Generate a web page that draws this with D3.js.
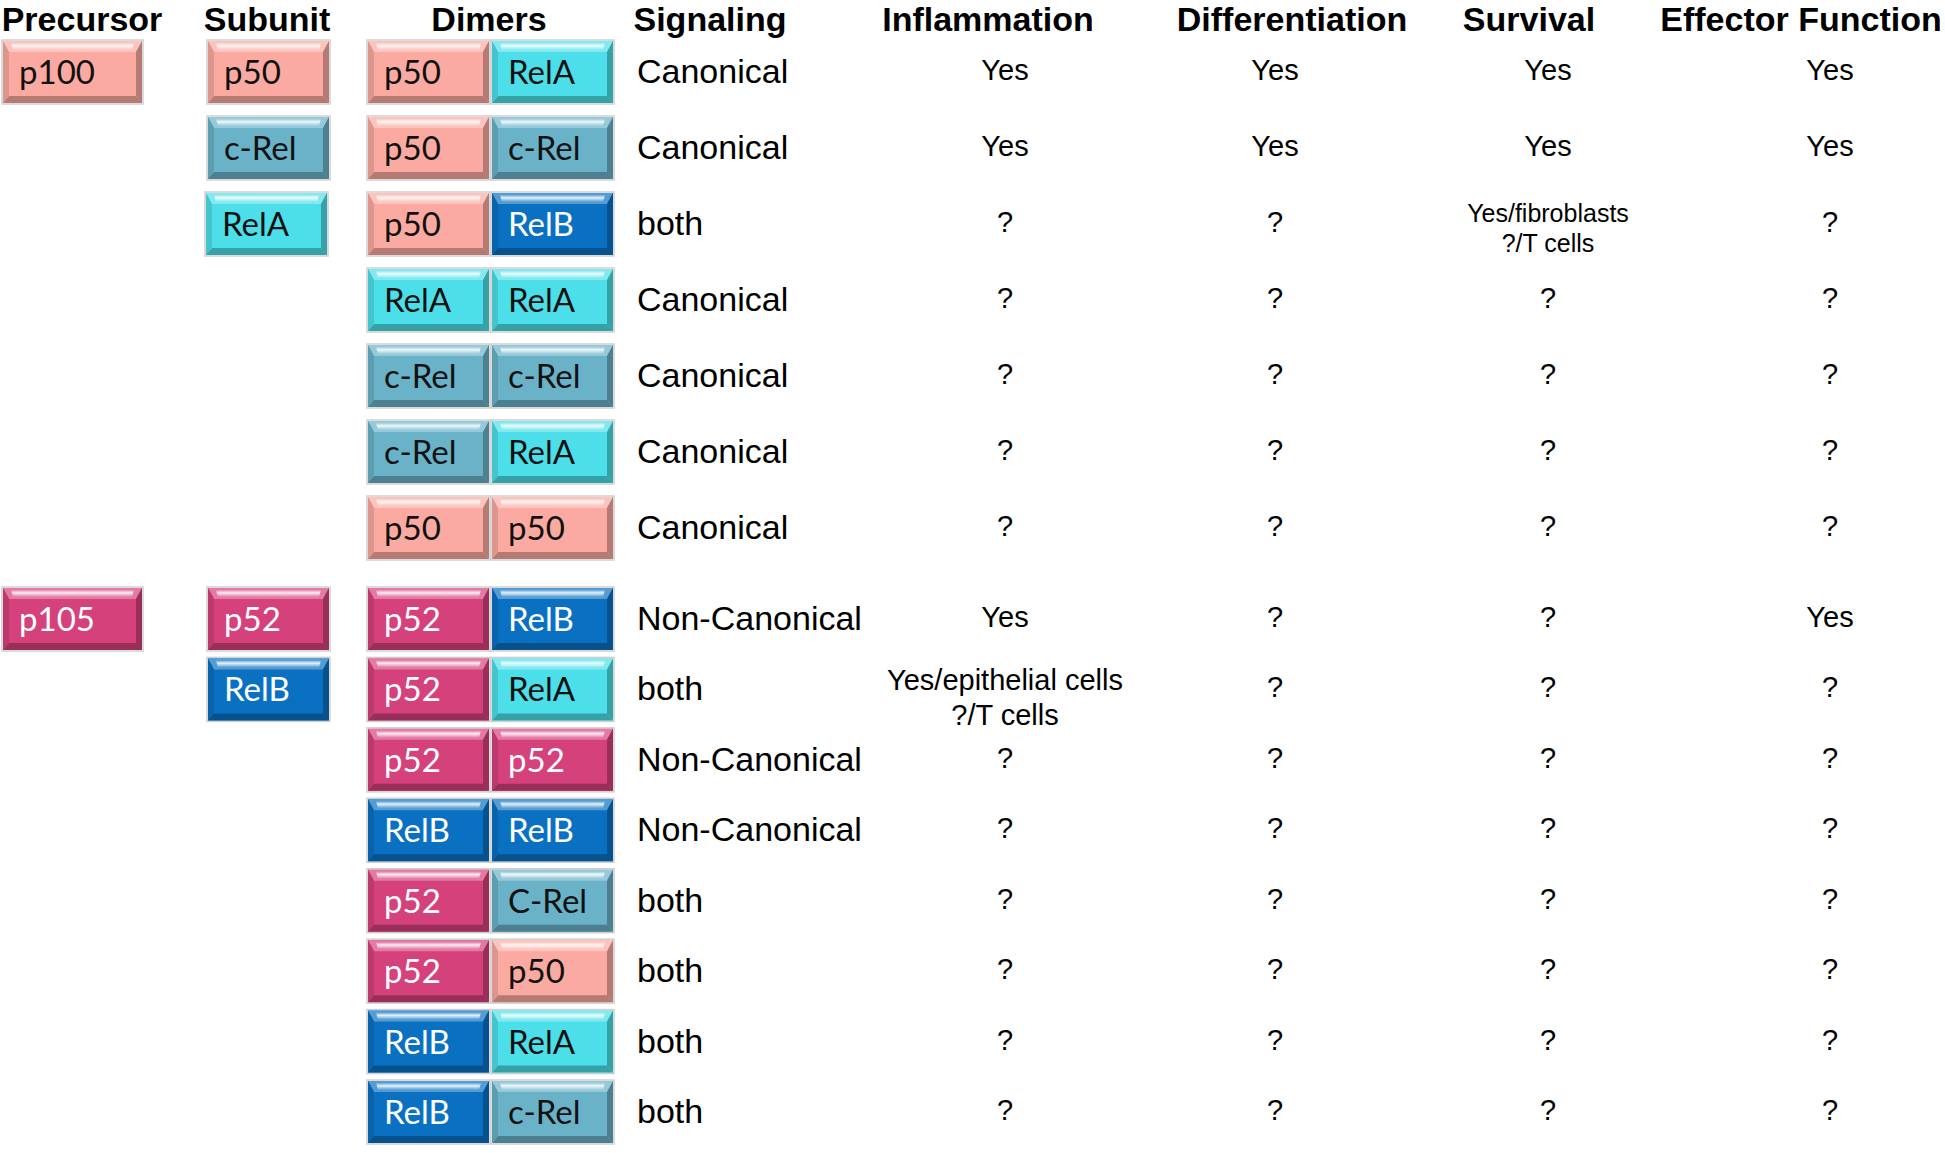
<!DOCTYPE html>
<html>
    <head>
        <meta charset="utf-8">
        <style>
            body { margin: 0; background: #fff; }
            .entete { font-family: "Liberation Sans", Arial, sans-serif; font-weight: bold; font-size: 34px; fill: #000; text-anchor: middle; }
            .signal { font-family: "Liberation Sans", Arial, sans-serif; font-size: 34px; fill: #000; }
            .valeur { font-family: "Liberation Sans", Arial, sans-serif; font-size: 29px; fill: #000; text-anchor: middle; }
            .etiquette { font-family: Lato, "Open Sans", sans-serif; font-size: 33px; }
        </style>
    </head>
    <body>
        <div id="plateau"></div>
        <script src="https://cdn.jsdelivr.net/npm/d3@7/dist/d3.min.js"></script>
        <script>

//////////////////// donnees ////////////////////
const HEADERS = ['Precursor', 'Subunit', 'Dimers', 'Signaling', 'Inflammation', 'Differentiation', 'Survival', 'Effector Function'];
const PRECURSORS = ['p100', 'p105'];
const SUBUNITS = [['p50', 'c-Rel', 'RelA'], ['p52', 'RelB']];
const DIMERS_1 = [['p50', 'RelA'], ['p50', 'c-Rel'], ['p50', 'RelB'], ['RelA', 'RelA'], ['c-Rel', 'c-Rel'], ['c-Rel', 'RelA'], ['p50', 'p50']];
const DIMERS_2 = [['p52', 'RelB'], ['p52', 'RelA'], ['p52', 'p52'], ['RelB', 'RelB'], ['p52', 'C-Rel'], ['p52', 'p50'], ['RelB', 'RelA'], ['RelB', 'c-Rel']];
const SIGNALING = ['Canonical', 'Canonical', 'both', 'Canonical', 'Canonical', 'Canonical', 'Canonical',
    'Non-Canonical', 'both', 'Non-Canonical', 'Non-Canonical', 'both', 'both', 'both', 'both'];
const INFLAMMATION = ['Yes', 'Yes', '?', '?', '?', '?', '?', 'Yes', 'Yes/epithelial cells\n?/T cells', '?', '?', '?', '?', '?', '?'];
const DIFFERENTIATION = ['Yes', 'Yes', '?', '?', '?', '?', '?', '?', '?', '?', '?', '?', '?', '?', '?'];
const SURVIVAL = ['Yes', 'Yes', 'Yes/fibroblasts\n?/T cells', '?', '?', '?', '?', '?', '?', '?', '?', '?', '?', '?', '?'];
const EFFECTOR = ['Yes', 'Yes', '?', '?', '?', '?', '?', 'Yes', '?', '?', '?', '?', '?', '?', '?'];

//////////////////// mise en page ////////////////////
const W = 1945;
const H = 1153;
const BOX_H = 62;

const couleur = d3.scaleOrdinal()
    .domain(['p100', 'p50', 'p105', 'p52', 'c-Rel', 'C-Rel', 'RelA', 'RelB'])
    .range(['#faaaa0', '#faaaa0', '#d5417b', '#d5417b', '#69b2c8', '#69b2c8', '#4ddfe9', '#0a71c2']);
const texte_blanc = ['p105', 'p52', 'RelB'];

// lignes : deux groupes (p100 puis p105)
const y1 = d3.scaleLinear().domain([0, DIMERS_1.length - 1]).range([41, 497]);
const y2 = d3.scaleLinear().domain([0, DIMERS_2.length - 1]).range([588, 1081]);
const rowTop = (g, i) => g == 0 ? y1(i) : y2(i);

const DIMERS = DIMERS_1.map(d => ({ g: 0, d })).concat(DIMERS_2.map(d => ({ g: 1, d })));
DIMERS.forEach((r, idx) => r.i = r.g == 0 ? idx : idx - DIMERS_1.length);

const xHeader = d3.scaleOrdinal().domain(HEADERS).range([82, 267, 489, 710, 988, 1292, 1529, 1801]);
const xValeur = d3.scaleOrdinal().domain(['Inflammation', 'Differentiation', 'Survival', 'Effector Function']).range([1005, 1275, 1548, 1830]);

const svg = d3.select('#plateau').append('svg')
    .attr('width', W)
    .attr('height', H);

const defs = svg.append('defs');
const grad = defs.append('linearGradient').attr('id', 'gloss').attr('x1', 0).attr('y1', 0).attr('x2', 0).attr('y2', 1);
grad.append('stop').attr('offset', '0%').attr('stop-color', '#fff').attr('stop-opacity', 0.1);
grad.append('stop').attr('offset', '40%').attr('stop-color', '#fff').attr('stop-opacity', 0.85);
grad.append('stop').attr('offset', '100%').attr('stop-color', '#fff').attr('stop-opacity', 0);

//////////////////// fonction boite ////////////////////
function genBoite(x, y, w, nom) {
    const base = couleur(nom);
    const clair = d3.interpolateRgb(base, '#fff')(0.3);
    const fonce = d3.interpolateRgb(base, '#000')(0.28);
    const cote = d3.interpolateRgb(base, '#000')(0.12);
    const tb = 11, sb = 6, bb = 7;
    const h = BOX_H;

    let boite = svg.append('g').attr('transform', `translate(${x}, ${y})`);

    boite.append('rect')
        .attr('x', -1).attr('y', -1)
        .attr('width', w + 2).attr('height', h + 2)
        .attr('fill', 'none').attr('stroke', '#cfcfcf').attr('stroke-width', 1.5);
    boite.append('rect').attr('width', w).attr('height', h).attr('fill', base);

    boite.append('path').attr('d', `M0 0 L${w} 0 L${w - sb} ${tb} L${sb} ${tb} Z`).attr('fill', clair);
    boite.append('path').attr('d', `M${sb + 2} 2 L${w - sb - 2} 2 L${w - sb - 4} ${tb - 2} L${sb + 4} ${tb - 2} Z`).attr('fill', 'url(#gloss)');
    boite.append('path').attr('d', `M0 ${h} L${w} ${h} L${w - sb} ${h - bb} L${sb} ${h - bb} Z`).attr('fill', fonce);
    boite.append('path').attr('d', `M0 0 L${sb} ${tb} L${sb} ${h - bb} L0 ${h} Z`).attr('fill', cote);
    boite.append('path').attr('d', `M${w} 0 L${w - sb} ${tb} L${w - sb} ${h - bb} L${w} ${h} Z`).attr('fill', fonce);

    boite.append('text')
        .classed('etiquette', true)
        .attr('x', 16)
        .attr('y', 43)
        .attr('fill', texte_blanc.includes(nom) ? '#fff' : '#111')
        .text(nom);
}

//////////////////// entetes ////////////////////
svg.selectAll('text.entete')
    .data(HEADERS)
    .join('text')
    .classed('entete', true)
    .attr('x', d => xHeader(d))
    .attr('y', 31)
    .text(d => d);

//////////////////// precurseurs et sous-unites ////////////////////
PRECURSORS.forEach((p, g) => genBoite(3, rowTop(g, 0), 139, p));
SUBUNITS.forEach((liste, g) => {
    liste.forEach((s, i) => genBoite(s == 'RelA' ? 206 : 208, rowTop(g, i), 121, s));
});

//////////////////// dimeres ////////////////////
DIMERS.forEach(r => {
    genBoite(368, rowTop(r.g, r.i), 121, r.d[0]);
    genBoite(492, rowTop(r.g, r.i), 121, r.d[1]);
});

//////////////////// signalisation ////////////////////
svg.selectAll('text.signal')
    .data(SIGNALING)
    .join('text')
    .classed('signal', true)
    .attr('x', 637)
    .attr('y', (d, idx) => rowTop(DIMERS[idx].g, DIMERS[idx].i) + BOX_H / 2 + 11)
    .text(d => d);

//////////////////// valeurs ////////////////////
const COLONNES = [['Inflammation', INFLAMMATION], ['Differentiation', DIFFERENTIATION], ['Survival', SURVIVAL], ['Effector Function', EFFECTOR]];
const taille_multi = { 'Inflammation': 29, 'Survival': 25 };

COLONNES.forEach(([nom, valeurs]) => {
    valeurs.forEach((v, idx) => {
        const centre = rowTop(DIMERS[idx].g, DIMERS[idx].i) + BOX_H / 2;
        const lignes = v.split('\n');
        let t = svg.append('text')
            .classed('valeur', true)
            .attr('x', xValeur(nom));
        if (lignes.length == 1) {
            t.attr('y', centre + 8).text(v);
        } else {
            const fs = taille_multi[nom] || 27;
            t.style('font-size', fs + 'px');
            lignes.forEach((l, k) => {
                t.append('tspan')
                    .attr('x', xValeur(nom))
                    .attr('y', centre + (fs > 26 ? 1 : -2) + k * fs * 1.2)
                    .text(l);
            });
        }
    });
});

        </script>
    </body>
</html>
